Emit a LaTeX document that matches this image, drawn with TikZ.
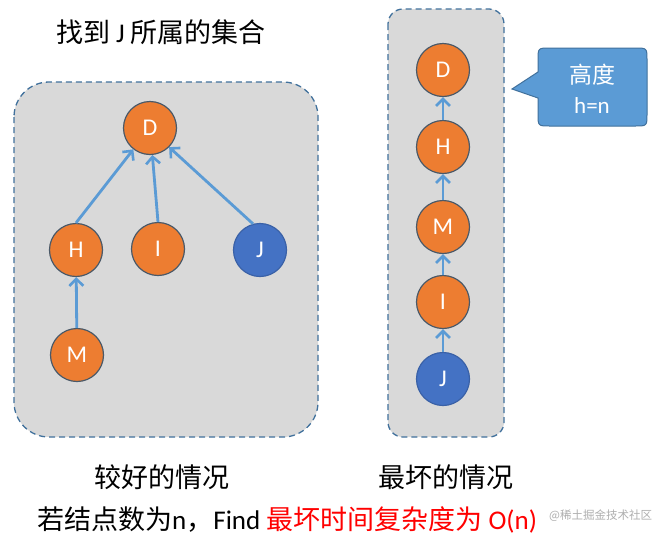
\documentclass[tikz,border=0pt]{standalone}
\usepackage{fontspec}
\setmainfont{Carlito}
\newfontfamily\cjk{Noto Sans CJK SC}
\usetikzlibrary{arrows.meta}
\definecolor{orng}{HTML}{ED7D31}
\definecolor{jblue}{HTML}{4472C4}
\definecolor{arr}{HTML}{5B9BD5}
\definecolor{edgeblue}{HTML}{41719C}
\definecolor{outl}{HTML}{4A5968}
\definecolor{boxgray}{HTML}{D9D9D9}
\definecolor{wm}{HTML}{9A9A9A}
\definecolor{redtxt}{HTML}{FF0000}
\tikzset{
 vtx/.style={circle, minimum size=53pt, inner sep=0pt, fill=orng, draw=outl, line width=1.2pt, text=white, font=\fontsize{24}{24}\selectfont},
 jvtx/.style={vtx, fill=jblue, draw=jblue!85!black},
 link/.style={draw=arr, line width=2.8pt, -{Straight Barb[length=7pt,width=14pt,line width=2.6pt]}},
 grp/.style={fill=boxgray, draw=edgeblue, line width=1.3pt, dash pattern=on 6pt off 4pt},
 lbl/.style={font=\fontsize{27}{27}\selectfont, text=black, inner sep=0pt},
 callout/.style={fill=arr, draw=edgeblue, line width=1pt},
}
\begin{document}
\begin{tikzpicture}[x=1pt,y=-1pt]
\useasboundingbox (0,0) rectangle (653,539);
\fill[white] (0,0) rectangle (653,539);

% groups
\draw[grp, rounded corners=35pt] (14,82) rectangle (318,437);
\draw[grp, rounded corners=15pt] (388,9) rectangle (504,437);

% left tree
\node[vtx] (D1) at (150,128) {D};
\node[vtx] (H1) at (76,250) {H};
\node[vtx] (I1) at (158,249) {I};
\node[jvtx] (J1) at (260,250) {J};
\node[vtx] (M1) at (77,355) {M};
\draw[link] (H1.north) -- (D1.232);
\draw[link] (I1.north) -- (D1.275);
\draw[link] (J1.105) -- (D1.-45);
\draw[link] (M1) -- (H1);

% right chain
\node[vtx] (D2) at (443,70) {D};
\node[vtx] (H2) at (443,147) {H};
\node[vtx] (M2) at (443,227) {M};
\node[vtx] (I2) at (443,302) {I};
\node[jvtx] (J2) at (443,379) {J};
\draw[link] (H2) -- (D2);
\draw[link] (M2) -- (H2);
\draw[link] (I2) -- (M2);
\draw[link] (J2) -- (I2);

% callout
\filldraw[callout] (512,89) -- (538,98) -- (538,114) .. controls (538,126) .. (550,126) -- (635,126) .. controls (647,126) .. (647,114) -- (647,60) .. controls (647,48) .. (635,48) -- (550,48) .. controls (538,48) .. (538,60) -- (538,72) -- cycle;
\node[font=\fontsize{23}{30}\selectfont, text=white, align=center, inner sep=0pt] (hn) at (592,89) {{\cjk 高度}\\h=n};

% texts
\node[lbl] (title) at (161,32) {{\cjk 找到} J {\cjk 所属的集合}};
\node[lbl] (good) at (162,477) {\cjk 较好的情况};
\node[lbl] (bad) at (446,477) {\cjk 最坏的情况};
\node[lbl, anchor=west] (summary) at (37,520) {{\cjk 若结点数为}n{\cjk ，}Find {\color{redtxt}{\cjk 最坏时间复杂度为} O(n)}};
\node[font=\cjk\fontsize{11.5}{11.5}\selectfont, text=wm, opacity=0.8, anchor=west, inner sep=0pt] (wmark) at (549,516) {@稀土掘金技术社区};
\end{tikzpicture}
\end{document}
